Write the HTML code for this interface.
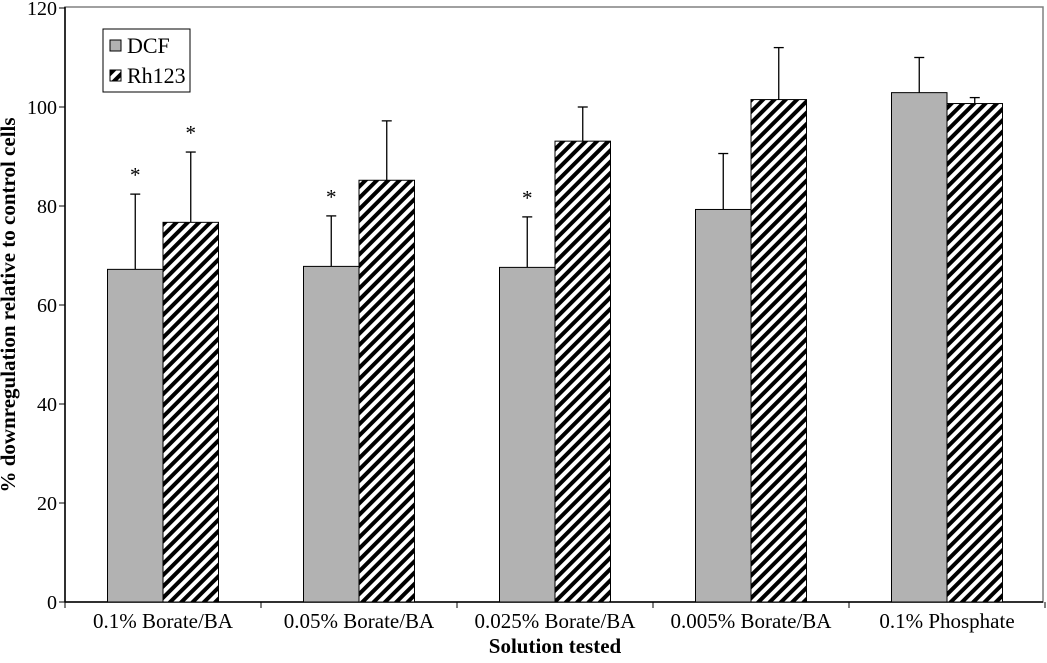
<!DOCTYPE html>
<html><head><meta charset="utf-8"><style>
body{margin:0;background:#fff;}
svg text{font-family:"Liberation Serif",serif;fill:#000;}
</style></head><body>
<svg id="chart" width="1047" height="658" xmlns="http://www.w3.org/2000/svg">
<defs>
<pattern id="stripe" patternUnits="userSpaceOnUse" width="8" height="8" patternTransform="rotate(45)">
<rect width="8" height="8" fill="#fff"/><rect width="4" height="8" fill="#000"/>
</pattern>
</defs>
<rect x="65" y="7" width="978" height="595" fill="none" stroke="#808080" stroke-width="1.5"/>
<g id="g"></g>
<text transform="translate(15,305) rotate(-90)" text-anchor="middle" font-size="21" font-weight="bold">% downregulation relative to control cells</text>
<text x="555" y="653" text-anchor="middle" font-size="21" font-weight="bold">Solution tested</text>
<g>
<rect x="103" y="29" width="87" height="63" fill="#fff" stroke="#000" stroke-width="1"/>
<rect x="110" y="40" width="11" height="11" fill="#b2b2b2" stroke="#000"/>
<text x="127" y="53" font-size="22">DCF</text>
<rect x="110" y="70" width="11" height="11" fill="url(#stripe)" stroke="#000"/>
<text x="127" y="83" font-size="22">Rh123</text>
</g>
</svg>
<script>
const categories=["0.1% Borate/BA","0.05% Borate/BA","0.025% Borate/BA","0.005% Borate/BA","0.1% Phosphate"];
const dcfValues=[67.2,67.8,67.6,79.3,102.9];
const dcfErrTop=[82.4,78.0,77.8,90.6,110.0];
const rhValues=[76.7,85.2,93.1,101.5,100.7];
const rhErrTop=[90.9,97.2,100.0,112.0,101.9];
const dcfStar=[true,true,true,false,false];
const rhStar=[true,false,false,false,false];
const yTicks=[0,20,40,60,80,100,120];
const NS="http://www.w3.org/2000/svg";
const g=document.getElementById('g');
const x0=65,x1=1045,yBase=602,yTop=8,yMax=120;
const y=v=>yBase-(v/yMax)*(yBase-yTop);
const cw=(x1-x0)/categories.length;
const cx=i=>x0+cw*i+cw/2;
function mk(t,a){const e=document.createElementNS(NS,t);for(const k in a)e.setAttribute(k,a[k]);g.appendChild(e);return e;}
let e;
e=mk('line',{x1:x0,y1:yTop-1,x2:x0,y2:yBase,stroke:'#000','stroke-width':1.5});


e=mk('line',{x1:x0,y1:yBase,x2:1043,y2:yBase,stroke:'#000','stroke-width':1.5});


yTicks.forEach(v=>{
 e=mk('line',{x1:x0-6,y1:y(v),x2:x0,y2:y(v),stroke:'#000'});
 
 
 e=mk('text',{x:x0-8,y:y(v)+7,'text-anchor':'end','font-size':20});
 e.textContent=v;
 
 
});
for(let i=0;i<=categories.length;i++){
 e=mk('line',{x1:x0+cw*i,y1:yBase,x2:x0+cw*i,y2:yBase+6,stroke:'#000'});
 
 
}
const bw=55.5;
function bar(i,v,top,fill,dx,star,name){
 const bx=cx(i)+dx;
 const mid=bx+bw/2;
 e=mk('line',{x1:mid,y1:y(v),x2:mid,y2:y(top),stroke:'#000','stroke-width':1.3});
 
 
 e=mk('line',{x1:mid-5,y1:y(top),x2:mid+5,y2:y(top),stroke:'#000','stroke-width':1.3});
 
 
 e=mk('rect',{x:bx,y:y(v),width:bw,height:yBase-y(v),fill:fill,stroke:'#000','stroke-width':1});
 
 
 if(star){
  e=mk('text',{x:mid,y:y(top)-12,'text-anchor':'middle','font-size':21});
  e.textContent='*';
  
  
 }
}
categories.forEach((c,i)=>{
 bar(i,dcfValues[i],dcfErrTop[i],'#b2b2b2',-bw,dcfStar[i],'dcf');
 bar(i,rhValues[i],rhErrTop[i],'url(#stripe)',0,rhStar[i],'rh123');
 e=mk('text',{x:cx(i),y:628,'text-anchor':'middle','font-size':21});
 e.textContent=c;
 
 
});
</script>
</body></html>
